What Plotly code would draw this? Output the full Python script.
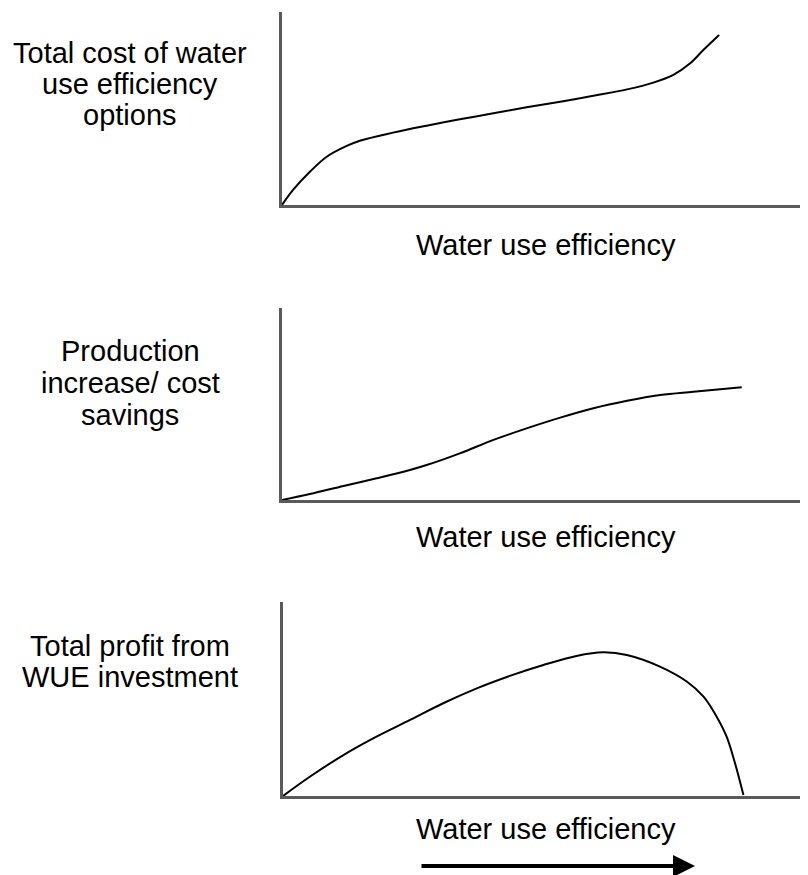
import plotly.graph_objects as go

# page has an 8px body margin, so the figure is drawn 8px in from the top-left
OFF = 8
W, H = 808 - OFF, 875 - OFF

# ---- data (x: water use efficiency, y: value; arbitrary 0-100 units) ----
cost_x = [0, 2.1, 5.3, 8.5, 12.3, 14.8, 21.1, 27.5, 33.8, 40.2, 46.5, 52.9, 59.2, 65.6, 70.6, 74.4, 77.6, 80.1, 83.1]
cost_y = [0, 7.8, 17.2, 25.0, 30.6, 33.3, 37.5, 41.1, 44.4, 47.5, 50.6, 53.5, 56.6, 59.9, 63.4, 67.4, 73.4, 80.3, 88.1]

prod_x = [0, 5.3, 11.7, 18.0, 24.3, 27.5, 33.8, 40.2, 46.5, 52.9, 59.2, 65.6, 71.9, 78.2, 87.4]
prod_y = [0, 3.1, 7.3, 11.3, 15.6, 18.2, 24.3, 31.3, 37.3, 42.9, 47.8, 51.7, 54.7, 56.4, 58.7]

profit_x = [0, 5.1, 11.5, 17.8, 24.2, 30.5, 36.9, 43.2, 49.6, 55.9, 61.0, 65.5, 71.8, 76.9, 80.1, 82.6, 84.5, 86.1, 87.7]
profit_y = [0, 9.9, 21.1, 30.6, 39.2, 47.8, 55.5, 61.9, 67.5, 72.2, 74.1, 72.7, 66.7, 59.0, 51.2, 40.9, 30.6, 16.9, 0.5]

y_labels = [
    ["Total cost of water", "use efficiency", "options"],
    ["Production", "increase/ cost", "savings"],
    ["Total profit from", "WUE investment"],
]
x_label = "Water use efficiency"

FONT = "Liberation Sans, Arial, sans-serif"
FS = 29

# panel pixel boxes on the page: (left, top, bottom)
panels = [(282, 12, 205), (282, 308, 500), (283, 602, 796)]
series = [(cost_x, cost_y), (prod_x, prod_y), (profit_x, profit_y)]


def fx(p):
    return (p - OFF) / W


def fy(p):
    return (H - (p - OFF)) / H


fig = go.Figure()
layout = dict(
    width=W, height=H, margin=dict(l=0, r=0, t=0, b=0),
    paper_bgcolor="white", plot_bgcolor="white", showlegend=False,
)

for i, ((left, top, bottom), (xs, ys)) in enumerate(zip(panels, series)):
    n = "" if i == 0 else str(i + 1)
    fig.add_trace(go.Scatter(
        x=xs, y=ys, mode="lines",
        line=dict(color="black", width=2, shape="spline", smoothing=1.0),
        xaxis="x" + n, yaxis="y" + n, hoverinfo="skip",
    ))
    common = dict(showgrid=False, zeroline=False, showticklabels=False, ticks="",
                  showline=True, linecolor="#5a5a5a", linewidth=2.5, fixedrange=True)
    layout["xaxis" + n] = dict(domain=[fx(left), 1], range=[0, 100], anchor="y" + n, **common)
    layout["yaxis" + n] = dict(domain=[fy(bottom), fy(top)], range=[0, 100],
                               anchor="x" + n, **common)

fig.update_layout(**layout)

annotations = []
ylab_centers = [[53, 84, 115], [351, 383, 415], [646, 677]]
for lines, cys in zip(y_labels, ylab_centers):
    for t, cy in zip(lines, cys):
        annotations.append(dict(text=t, x=fx(130), y=fy(cy), xref="paper", yref="paper",
                                xanchor="center", yanchor="middle", showarrow=False,
                                font=dict(family=FONT, size=FS, color="black")))
for cy in [245, 537, 829]:
    annotations.append(dict(text=x_label, x=fx(546), y=fy(cy), xref="paper", yref="paper",
                            xanchor="center", yanchor="middle", showarrow=False,
                            font=dict(family=FONT, size=FS, color="black")))
# direction arrow
annotations.append(dict(text="", x=fx(695), y=fy(866), xref="paper", yref="paper",
                        ax=-275, ay=0, showarrow=True, arrowhead=2, arrowsize=1.1,
                        arrowwidth=4, arrowcolor="black", standoff=0))
fig.update_layout(annotations=annotations)

fig.write_html("out.html")
